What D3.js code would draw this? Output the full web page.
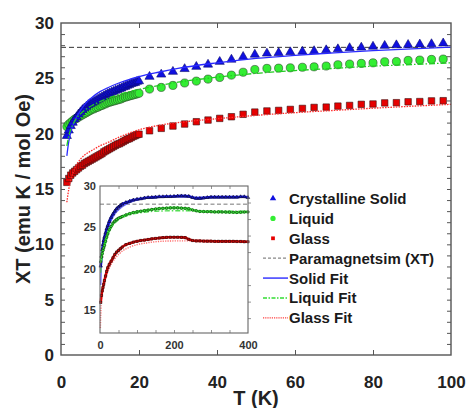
<!DOCTYPE html>
<html>
<head>
<meta charset="utf-8">
<script src="https://cdn.jsdelivr.net/npm/d3@7"></script>
<style>
  html, body { margin: 0; padding: 0; background: #fff; }
  svg { display: block; font-family: "Liberation Sans", Arial, sans-serif; font-weight: bold; }
</style>
</head>
<body>
<svg id="chart" width="468" height="408"></svg>
<script>
// ---- measured susceptibility data, main panel (T in K, XT in emu K / mol Oe) ----
const temperature = [1.5,2,2.5,3,3.5,4,4.5,5,5.5,6,6.5,7,7.5,8,8.5,9,9.5,10,10.5,11,11.5,12,12.5,13,13.5,14,14.5,15,15.5,16,16.5,17,17.5,18,18.5,19,19.5,20,
  22.7,25.7,28.7,31.7,34.7,37.7,40.7,43.7,46.7,49.7,52.8,55.8,58.8,61.9,64.9,68,71,74,77,80,83,86,89,92,95,98];
const solidXT = [19.8,20.3,20.7,21.0,21.3,21.5,21.75,21.95,22.15,22.3,22.45,22.6,22.7,22.8,22.9,23.0,23.1,23.2,23.3,23.4,23.5,23.6,23.65,23.75,23.8,23.9,23.95,24.05,24.1,24.2,24.25,24.35,24.4,24.5,24.55,24.6,24.7,24.75,
  25.15,25.35,25.6,25.85,26.05,26.25,26.5,26.7,26.95,27.15,27.25,27.3,27.37,27.42,27.47,27.55,27.64,27.74,27.79,27.87,27.95,28.0,28.03,28.07,28.1,28.17];
const liquidXT = [20.65,20.85,21.0,21.15,21.3,21.4,21.5,21.6,21.7,21.8,21.9,22.0,22.1,22.2,22.25,22.35,22.4,22.5,22.55,22.65,22.7,22.8,22.85,22.9,22.95,23.0,23.05,23.1,23.15,23.25,23.3,23.35,23.4,23.45,23.5,23.55,23.6,23.65,
  24.03,24.18,24.36,24.58,24.75,24.93,25.08,25.29,25.55,25.8,25.9,25.92,25.95,26.0,26.04,26.11,26.23,26.29,26.35,26.4,26.5,26.52,26.62,26.65,26.71,26.74];
const glassXT = [15.6,15.95,16.25,16.45,16.6,16.75,16.9,17.05,17.15,17.3,17.4,17.5,17.6,17.7,17.8,17.9,18.0,18.1,18.2,18.35,18.45,18.55,18.65,18.75,18.85,18.95,19.05,19.1,19.2,19.3,19.4,19.5,19.55,19.65,19.75,19.82,19.9,19.95,
  20.26,20.48,20.69,20.87,21.08,21.23,21.38,21.53,21.75,21.95,22.05,22.1,22.19,22.28,22.37,22.4,22.49,22.55,22.65,22.68,22.78,22.8,22.88,22.9,22.96,22.98];

// ---- fitted curves, main panel ----
const fitT = [1.5,2,2.5,3,4,5,6,7,8,10,12,15,20,25,30,40,50,60,70,80,90,100];
const solidFit = [18.0,19.3,20.1,20.7,21.5,22.1,22.6,23.0,23.3,23.8,24.15,24.6,25.15,25.55,25.9,26.4,26.8,27.08,27.3,27.5,27.67,27.82];
const liquidFit = [18.9,19.8,20.4,20.8,21.4,21.8,22.1,22.35,22.55,22.9,23.2,23.55,24.0,24.35,24.65,25.1,25.45,25.7,25.9,26.1,26.25,26.4];
const glassFit = [13.8,15.0,15.8,16.4,17.2,17.7,18.05,18.3,18.5,18.9,19.2,19.7,20.35,20.75,21.0,21.35,21.65,21.9,22.1,22.3,22.48,22.65];

// Curie (paramagnetic) limit
const paramagnetXT = 27.8;

// ---- inset: full temperature range ----
const insetT = [2,4,6,8,10,12,15,18,21,25,30,35,40,45,50,55,60,70,80,90,100,110,120,130,140,150,160,170,180,190,200,210,220,230,240,250,260,270,280,290,300,310,320,330,340,350,360,370,380,390,400];
const insetSolid = [20.3,21.5,22.3,22.9,23.4,23.8,24.3,24.8,25.2,25.7,26.2,26.6,26.95,27.25,27.45,27.65,27.8,28.0,28.15,28.3,28.4,28.45,28.55,28.6,28.62,28.65,28.7,28.7,28.72,28.72,28.75,28.78,28.8,28.78,28.75,28.6,28.5,28.5,28.55,28.6,28.65,28.65,28.65,28.65,28.65,28.65,28.65,28.65,28.7,28.7,28.6];
const insetLiquid = [20.8,21.4,21.8,22.2,22.5,22.8,23.3,23.8,24.2,24.7,25.1,25.5,25.75,25.95,26.1,26.2,26.3,26.5,26.65,26.78,26.88,26.95,27.02,27.08,27.15,27.22,27.27,27.3,27.32,27.35,27.35,27.35,27.32,27.3,27.25,27.1,27.0,26.92,26.9,26.88,26.88,26.86,26.86,26.85,26.84,26.83,26.82,26.8,26.82,26.85,26.86];
const insetGlass = [15.9,16.75,17.3,17.7,18.1,18.55,19.1,19.65,20.1,20.5,20.9,21.3,21.7,22.0,22.2,22.4,22.6,22.9,23.05,23.2,23.3,23.4,23.45,23.52,23.6,23.65,23.7,23.75,23.78,23.8,23.8,23.8,23.78,23.75,23.55,23.4,23.35,23.35,23.33,23.32,23.32,23.3,23.3,23.3,23.3,23.3,23.3,23.28,23.28,23.25,23.25];
const insetFitT = [2,4,6,10,15,20,30,40,50,60,80,100,125,150,200,250,300,400];
const insetSolidFit = [18.0,20.8,21.9,23.0,24.0,24.7,25.8,26.6,27.1,27.5,28.0,28.3,28.5,28.6,28.65,28.65,28.65,28.65];
const insetLiquidFit = [19.5,21.0,21.6,22.4,23.2,23.9,24.9,25.5,25.9,26.15,26.5,26.7,26.85,26.95,27.0,27.0,26.98,26.95];
const insetGlassFitT = [1,2,4,6,10,15,20,30,40,50,60,80,100,125,150,200,250,300,400];
const insetGlassFit = [12.8,14.5,16.5,17.3,18.0,18.8,19.5,20.5,21.2,21.7,22.1,22.6,22.9,23.1,23.25,23.35,23.35,23.35,23.35];

// ---- axis ticks ----
const xTickValues = [0,20,40,60,80,100];
const yTickValues = [0,5,10,15,20,25,30];
const insetXTickValues = [0,200,400];
const insetYTickValues = [15,20,25,30];

const legendLabels = ["Crystalline Solid","Liquid","Glass","Paramagnetsim (XT)","Solid Fit","Liquid Fit","Glass Fit"];

// ---- styling ----
const C = {
  solid: "#1010e0", liquid: "#33ee33", glass: "#e60000",
  solidFit: "#2a2aff", liquidFit: "#22cc22", glassFit: "#ff2a2a",
  frame: "#555", para: "#333"
};

const svg = d3.select("#chart");
const M = { left: 61, right: 451, top: 23, bottom: 355 };

const x = d3.scaleLinear().domain([0, 100]).range([M.left, M.right]);
const y = d3.scaleLinear().domain([0, 30]).range([M.bottom, M.top]);

// frame ticks (inward), drawn with d3 axes
function tickAxis(axisFn, scale, values, size, transform) {
  const g = svg.append("g").attr("transform", transform)
    .call(axisFn(scale).tickValues(values).tickSize(size).tickFormat(""));
  g.select(".domain").remove();
  g.selectAll(".tick line").attr("stroke", C.frame).attr("stroke-width", 1);
  return g;
}
tickAxis(d3.axisTop, x, [20,40,60,80], 5, `translate(0,${M.bottom})`);
tickAxis(d3.axisBottom, x, [20,40,60,80], 5, `translate(0,${M.top})`);
tickAxis(d3.axisLeft, y, d3.range(1, 30, 1), -4, `translate(${M.left},0)`);
tickAxis(d3.axisRight, y, d3.range(1, 30, 1), -4, `translate(${M.right},0)`);

// tick labels
const xLab = svg.append("g").attr("transform", `translate(0,${M.bottom})`)
  .call(d3.axisBottom(x).tickValues(xTickValues).tickSize(0).tickPadding(21));
xLab.select(".domain").remove();
xLab.selectAll("text").attr("font-size", 17).attr("font-weight", "bold").attr("fill", "#222").attr("font-family", null);

const yLab = svg.append("g").attr("transform", `translate(${M.left},0)`)
  .call(d3.axisLeft(y).tickValues(yTickValues).tickSize(0).tickPadding(7));
yLab.select(".domain").remove();
yLab.selectAll("text").attr("font-size", 17).attr("font-weight", "bold").attr("fill", "#222").attr("font-family", null);

// axis titles
svg.append("text").attr("x", (M.left + M.right) / 2).attr("y", 405)
  .attr("text-anchor", "middle").attr("font-size", 20).attr("fill", "#222").text("T (K)");
svg.append("text").attr("transform", `translate(30,${(M.top + M.bottom) / 2}) rotate(-90)`)
  .attr("text-anchor", "middle").attr("font-size", 20).attr("fill", "#222").text("XT (emu K / mol Oe)");

// paramagnetic limit
svg.append("line").attr("x1", x(0)).attr("x2", x(100))
  .attr("y1", y(paramagnetXT)).attr("y2", y(paramagnetXT))
  .attr("stroke", C.para).attr("stroke-width", 1).attr("stroke-dasharray", "5,3");

// data markers
const pts = (vals) => temperature.map((t, i) => [t, vals[i]]);
function markers(g, data, type, size, fill, stroke, sx, sy) {
  g.selectAll(null).data(data).join("path")
    .attr("d", d3.symbol().type(type).size(size))
    .attr("transform", d => `translate(${sx(d[0])},${sy(d[1])})`)
    .attr("fill", fill).attr("stroke", stroke).attr("stroke-width", 0.6);
}
const main = svg.append("g");
markers(main, pts(glassXT), d3.symbolSquare, 42, C.glass, "#3a1010", x, y);
markers(main, pts(liquidXT), d3.symbolCircle, 52, C.liquid, "#2a4a2a", x, y);
markers(main, pts(solidXT), d3.symbolTriangle, 36, C.solid, "#0a0a70", x, y);

// fit curves
const fitLine = d3.line().x(d => x(d[0])).y(d => y(d[1])).curve(d3.curveMonotoneX);
const fitPts = (vals) => fitT.map((t, i) => [t, vals[i]]);
main.append("path").attr("d", fitLine(fitPts(solidFit))).attr("fill", "none")
  .attr("stroke", C.solidFit).attr("stroke-width", 1.3);
main.append("path").attr("d", fitLine(fitPts(liquidFit))).attr("fill", "none")
  .attr("stroke", C.liquidFit).attr("stroke-width", 1.3).attr("stroke-dasharray", "6,2,1.5,2");
main.append("path").attr("d", fitLine(fitPts(glassFit))).attr("fill", "none")
  .attr("stroke", C.glassFit).attr("stroke-width", 1.3).attr("stroke-dasharray", "1.5,1.2");

// main frame
svg.append("rect").attr("x", M.left).attr("y", M.top)
  .attr("width", M.right - M.left).attr("height", M.bottom - M.top)
  .attr("fill", "none").attr("stroke", C.frame).attr("stroke-width", 1.4);

// ---- inset ----
const I = { left: 100, right: 248, top: 186, bottom: 333 };
const ix = d3.scaleLinear().domain([0, 400]).range([I.left, I.right]);
const iy = d3.scaleLinear().domain([12.2, 30]).range([I.bottom, I.top]);
const inset = svg.append("g");
inset.append("rect").attr("x", I.left).attr("y", I.top)
  .attr("width", I.right - I.left).attr("height", I.bottom - I.top).attr("fill", "#fff");

function insetTicks(axisFn, scale, values, size, transform) {
  const g = inset.append("g").attr("transform", transform)
    .call(axisFn(scale).tickValues(values).tickSize(size).tickFormat(""));
  g.select(".domain").remove();
  g.selectAll(".tick line").attr("stroke", "#777").attr("stroke-width", 0.8);
}
insetTicks(d3.axisTop, ix, [50,100,150,200,250,300,350], 3, `translate(0,${I.bottom})`);
insetTicks(d3.axisBottom, ix, [50,100,150,200,250,300,350], 3, `translate(0,${I.top})`);
insetTicks(d3.axisLeft, iy, d3.range(14, 30, 2), -3, `translate(${I.right},0)`);

const ixLab = inset.append("g").attr("transform", `translate(0,${I.bottom})`)
  .call(d3.axisBottom(ix).tickValues(insetXTickValues).tickSize(0).tickPadding(8));
ixLab.select(".domain").remove();
ixLab.selectAll("text").attr("font-size", 11).attr("font-weight", "bold").attr("fill", "#333").attr("font-family", null);
const iyLab = inset.append("g").attr("transform", `translate(${I.left},0)`)
  .call(d3.axisLeft(iy).tickValues(insetYTickValues).tickSize(0).tickPadding(4));
iyLab.select(".domain").remove();
iyLab.selectAll("text").attr("font-size", 11).attr("font-weight", "bold").attr("fill", "#333").attr("font-family", null);

inset.append("line").attr("x1", ix(0)).attr("x2", ix(400))
  .attr("y1", iy(paramagnetXT)).attr("y2", iy(paramagnetXT))
  .attr("stroke", "#777").attr("stroke-width", 1).attr("stroke-dasharray", "4,2.5");

const iLine = d3.line().x(d => ix(d[0])).y(d => iy(d[1])).curve(d3.curveMonotoneX);
const iFit = (ts, vals) => ts.map((t, i) => [t, vals[i]]);
inset.append("path").attr("d", iLine(iFit(insetFitT, insetSolidFit))).attr("fill", "none")
  .attr("stroke", "#6a6aff").attr("stroke-width", 1.4);
inset.append("path").attr("d", iLine(iFit(insetFitT, insetLiquidFit))).attr("fill", "none")
  .attr("stroke", "#55dd55").attr("stroke-width", 1.4).attr("stroke-dasharray", "5,2,1.5,2");
inset.append("path").attr("d", iLine(iFit(insetGlassFitT, insetGlassFit))).attr("fill", "none")
  .attr("stroke", "#ff6a6a").attr("stroke-width", 1.4).attr("stroke-dasharray", "1.2,1.2");

const iData = (vals) => insetT.map((t, i) => [t, vals[i]]);
[[insetSolid, C.solid, d3.symbolTriangle], [insetLiquid, C.liquid, d3.symbolCircle], [insetGlass, C.glass, d3.symbolSquare]]
  .forEach(([vals, col, sym]) => {
    inset.append("path").attr("d", iLine(iData(vals))).attr("fill", "none")
      .attr("stroke", col).attr("stroke-width", 2.6);
    markers(inset, iData(vals), sym, 5, col, "#111", ix, iy);
  });

inset.append("rect").attr("x", I.left).attr("y", I.top)
  .attr("width", I.right - I.left).attr("height", I.bottom - I.top)
  .attr("fill", "none").attr("stroke", "#666").attr("stroke-width", 1.1);

// ---- legend ----
const legend = svg.append("g");
const rowY = (i) => 198.5 + i * 19.9;
const legX = 289;
legend.selectAll("text").data(legendLabels).join("text")
  .attr("x", legX).attr("y", (d, i) => rowY(i)).attr("dy", "0.36em")
  .attr("font-size", 15).attr("fill", "#1a1a1a").text(d => d);
[[d3.symbolTriangle, 18, C.solid], [d3.symbolCircle, 22, C.liquid], [d3.symbolSquare, 14, C.glass]]
  .forEach(([sym, sz, col], i) => {
    legend.append("path").attr("d", d3.symbol().type(sym).size(sz)())
      .attr("transform", `translate(273,${rowY(i)})`).attr("fill", col);
  });
const legLines = [
  ["#888", 1.3, "3,2"],
  ["#5a5aff", 1.8, null],
  ["#33dd33", 1.5, "4,1.5,1.5,1.5"],
  ["#ff4040", 1.3, "1.2,1"]
];
legLines.forEach(([col, w, dash], k) => {
  const l = legend.append("line").attr("x1", 263).attr("x2", 288)
    .attr("y1", rowY(k + 3)).attr("y2", rowY(k + 3))
    .attr("stroke", col).attr("stroke-width", w);
  if (dash) l.attr("stroke-dasharray", dash);
});
</script>
</body>
</html>
